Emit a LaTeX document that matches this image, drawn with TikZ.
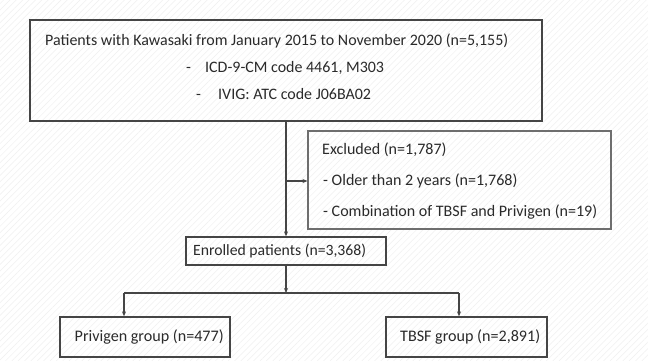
\documentclass[tikz,border=0pt]{standalone}
\usepackage{fontspec}
\usepackage{graphicx}
\setmainfont{Carlito}
\usetikzlibrary{arrows.meta,patterns.meta}
\definecolor{ink}{HTML}{2A2A2A}
\definecolor{frame}{HTML}{454545}
\definecolor{frametwo}{HTML}{6E6E6E}
\newcommand\basefont{\fontsize{14}{16}\selectfont}
\newlength\wtmp
\newcommand\fitfactor[3]{\settowidth\wtmp{\basefont #3}\pgfmathsetmacro#1{#2/\wtmp}}
\begin{document}
\fitfactor\ftop{463}{Patients with Kawasaki from January 2015 to November 2020 (n=5,155)}%
\fitfactor\fexc{274}{- Combination of TBSF and Privigen (n=19)}%
\fitfactor\fenr{173}{Enrolled patients (n=3,368)}%
\fitfactor\fpri{149}{Privigen group (n=477)}%
\fitfactor\ftbs{140}{TBSF group (n=2,891)}%
\begin{tikzpicture}[x=1pt,y=-1pt,
  box/.style={draw=frame,line width=1.3pt,rectangle,inner sep=0pt},
  lbox/.style={draw=frametwo,line width=1.1pt,rectangle,inner sep=0pt},
  txt/.style={text=ink,inner sep=0pt,anchor=west,font=\basefont},
  conn/.style={draw=frame,line width=1.1pt,-{Stealth[length=5pt,width=4pt]}},
  plain/.style={draw=frame,line width=1.1pt}]
\useasboundingbox (0,0) rectangle (648,360);
\fill[white] (0,0) rectangle (648,360);
\fill[pattern={Lines[angle=45,distance=4.5pt,line width=0.5pt]},pattern color=black!6] (0,0) rectangle (648,360);
% boxes
\node[box,minimum width=512pt,minimum height=101pt] (top) at (286,70.5) {};
\node[lbox,minimum width=303pt,minimum height=98pt] (excl) at (459.5,180) {};
\node[box,minimum width=200pt,minimum height=28pt] (enr) at (286,251) {};
\node[box,minimum width=170pt,minimum height=40pt] (priv) at (145,337) {};
\node[box,minimum width=161pt,minimum height=40pt] (tbsf) at (466.5,337) {};
% texts
\node[txt] (t1) at (45,41) {\scalebox{\ftop}{Patients with Kawasaki from January 2015 to November 2020 (n=5,155)}};
\node[txt] (d2) at (186,68) {\scalebox{\ftop}{-\vphantom{ICD-9-CM code 4461, M303}}};
\node[txt] (t2) at (205,68) {\scalebox{\ftop}{ICD-9-CM code 4461, M303}};
\node[txt] (d3) at (196,94) {\scalebox{\ftop}{-\vphantom{IVIG: ATC code J06BA02}}};
\node[txt] (t3) at (218,94) {\scalebox{\ftop}{IVIG: ATC code J06BA02}};
\node[txt] (e1) at (322,150) {\scalebox{\fexc}{Excluded (n=1,787)}};
\node[txt] (e2) at (323,181) {\scalebox{\fexc}{- Older than 2 years (n=1,768)}};
\node[txt] (e3) at (323,212) {\scalebox{\fexc}{- Combination of TBSF and Privigen (n=19)}};
\node[txt] (en) at (193,251) {\scalebox{\fenr}{Enrolled patients (n=3,368)}};
\node[txt] (pt) at (74.5,337) {\scalebox{\fpri}{Privigen group (n=477)}};
\node[txt] (tt) at (400,337) {\scalebox{\ftbs}{TBSF group (n=2,891)}};
% connectors
\coordinate (a0) at (286,121);
\coordinate (br) at (286,181);
\coordinate (split) at (286,293);
\coordinate (l) at (124,293);
\coordinate (r) at (459,293);
\draw[conn] (top.south -| a0) -- (enr.north -| a0);
\draw[conn] (br) -- (excl.west |- br);
\draw[conn] (enr.south -| split) -- (split);
\draw[plain] (l) -- (r);
\draw[conn] (l) -- (priv.north -| l);
\draw[conn] (r) -- (tbsf.north -| r);
\end{tikzpicture}
\end{document}
